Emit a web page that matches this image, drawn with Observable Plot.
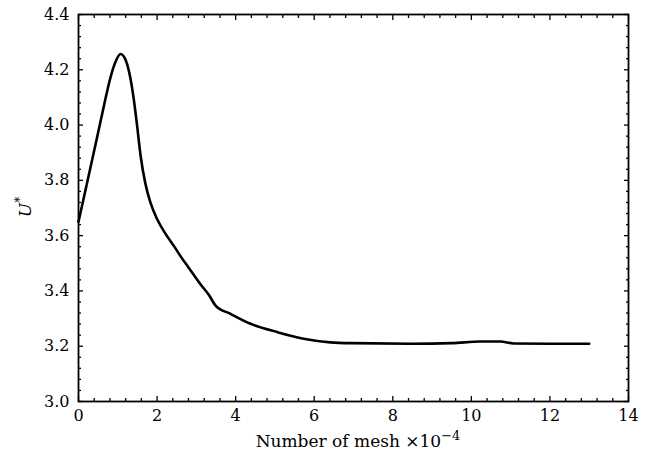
<!DOCTYPE html>
<html>
<head>
<meta charset="utf-8">
<script src="https://cdn.jsdelivr.net/npm/d3@7"></script>
<script src="https://cdn.jsdelivr.net/npm/@observablehq/plot@0.6"></script>
<style>
  body { margin: 0; background: #fff; }
  #chart svg { display: block; }
</style>
</head>
<body>
<div id="chart"></div>
<script>
const mesh = [0, 0.135, 0.31, 0.48, 0.64, 0.81, 0.94, 1.07, 1.2, 1.32, 1.41, 1.49, 1.58, 1.70, 1.83, 2.0, 2.2, 2.43, 2.6, 2.8, 3.1, 3.32, 3.49, 3.87, 4.38, 5.06, 5.73, 6.41, 6.92, 8.45, 9.5, 10.23, 10.74, 11.07, 12.0, 13.0];
const U    = [3.65, 3.737, 3.85, 3.96, 4.065, 4.17, 4.228, 4.257, 4.235, 4.17, 4.09, 4.0, 3.89, 3.79, 3.72, 3.66, 3.61, 3.562, 3.525, 3.485, 3.425, 3.385, 3.347, 3.317, 3.281, 3.251, 3.227, 3.214, 3.211, 3.209, 3.211, 3.217, 3.217, 3.210, 3.209, 3.209];

const xMajor = [0, 2, 4, 6, 8, 10, 12, 14];
const xMinor = d3.range(0, 14.001, 0.4).map(v => +v.toFixed(2)).filter(v => !xMajor.some(m => Math.abs(m - v) < 1e-6));
const yMajor = [3.0, 3.2, 3.4, 3.6, 3.8, 4.0, 4.2, 4.4];
const yMinor = d3.range(3.0, 4.4001, 0.04).map(v => +v.toFixed(2)).filter(v => !yMajor.some(m => Math.abs(m - v) < 1e-6));

const data = mesh.map((x, i) => ({x, y: U[i]}));

const font = "'DejaVu Serif', 'Liberation Serif', serif";

const chart = Plot.plot({
  width: 647,
  height: 456,
  marginLeft: 78,
  marginRight: 19,
  marginTop: 14,
  marginBottom: 55,
  style: {fontFamily: font, fontSize: "16px", color: "#000", background: "#fff"},
  x: {domain: [0, 14]},
  y: {domain: [3.0, 4.4]},
  marks: [
    Plot.axisX({ticks: xMajor, tickSize: -5, tickPadding: 13, tickFormat: d => String(d), label: null, strokeWidth: 1.3}),
    Plot.axisX({ticks: xMinor, tickSize: -3, text: null, label: null, strokeWidth: 1.3}),
    Plot.axisX({anchor: "top", ticks: xMajor, tickSize: -5, text: null, label: null, strokeWidth: 1.3}),
    Plot.axisX({anchor: "top", ticks: xMinor, tickSize: -3, text: null, label: null, strokeWidth: 1.3}),
    Plot.axisY({ticks: yMajor, tickSize: -5, tickPadding: 14, tickFormat: d => d.toFixed(1), label: null, strokeWidth: 1.3}),
    Plot.axisY({ticks: yMinor, tickSize: -3, text: null, label: null, strokeWidth: 1.3}),
    Plot.axisY({anchor: "right", ticks: yMajor, tickSize: -5, text: null, label: null, strokeWidth: 1.3}),
    Plot.axisY({anchor: "right", ticks: yMinor, tickSize: -3, text: null, label: null, strokeWidth: 1.3}),
    Plot.line(data, {x: "x", y: "y", curve: "monotone-x", stroke: "#000", strokeWidth: 2.6}),
    Plot.frame({stroke: "#000", strokeWidth: 1.8})
  ]
});

const svg = d3.select(chart);
const xl = svg.append("text")
  .attr("x", 358).attr("y", 447)
  .attr("text-anchor", "middle")
  .attr("font-family", font).attr("font-size", 17).attr("fill", "#000");
xl.append("tspan").text("Number of mesh \u00d710");
xl.append("tspan").attr("dy", -7).attr("font-size", 13).text("\u22124");

const yl = svg.append("text")
  .attr("transform", "translate(31,207) rotate(-90)")
  .attr("text-anchor", "middle")
  .attr("font-family", font).attr("font-size", 17).attr("fill", "#000");
yl.append("tspan").attr("font-style", "italic").text("U");
yl.append("tspan").attr("dy", -7).attr("font-size", 12).text("*");

document.getElementById("chart").appendChild(chart);
</script>
</body>
</html>
